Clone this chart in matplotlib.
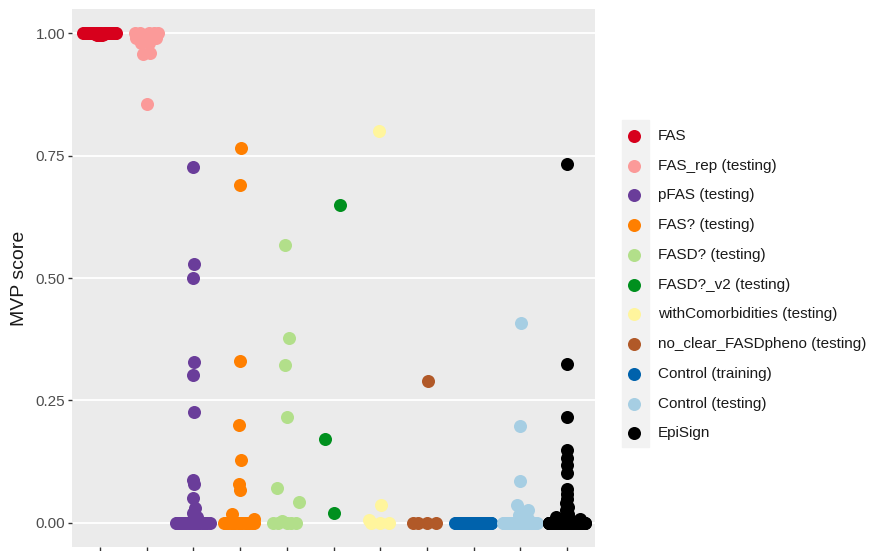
import numpy as np
import matplotlib.pyplot as plt
from matplotlib.patches import Rectangle

plt.rcParams['font.family'] = ['Liberation Sans', 'DejaVu Sans']

groups = ['FAS', 'FAS_rep (testing)', 'pFAS (testing)', 'FAS? (testing)',
          'FASD? (testing)', 'FASD?_v2 (testing)', 'withComorbidities (testing)',
          'no_clear_FASDpheno (testing)', 'Control (training)', 'Control (testing)',
          'EpiSign']
colors = ['#D7001C', '#FB9A99', '#6A3D9A', '#FF7F00', '#B2DF8A', '#00901E',
          '#FFF59D', '#B15928', '#0062AC', '#A6CEE3', '#000000']

# MVP scores
fas = [1.0] * 20 + [0.999] * 6 + [0.997] * 4
fas_rep = [1.0] * 5 + [0.99] * 3 + [0.98] * 2 + [0.96, 0.958, 0.855]
pfas = [0.727, 0.528, 0.5, 0.328, 0.302, 0.225, 0.087, 0.078, 0.05,
        0.03, 0.02, 0.012] + [0.0] * 20
fas_q = [0.765, 0.69, 0.33, 0.2, 0.128, 0.078, 0.066, 0.018, 0.008] + [0.0] * 14
fasd_q = [0.568, 0.377, 0.323, 0.215, 0.07, 0.042, 0.004] + [0.0] * 5
fasd_v2 = [0.65, 0.17, 0.02]
comorb = [0.80, 0.035, 0.006] + [0.0] * 3
no_clear = [0.29] + [0.0] * 4
ctrl_train = [0.0] * 60
ctrl_test = [0.408, 0.197, 0.085, 0.035, 0.025, 0.015, 0.008] + [0.0] * 28
episign = [0.733, 0.325, 0.215, 0.148, 0.132, 0.118, 0.102, 0.068, 0.058,
           0.048, 0.04, 0.032, 0.025, 0.018, 0.012, 0.008, 0.005, 0.003] + [0.0] * 100

scores = [fas, fas_rep, pfas, fas_q, fasd_q, fasd_v2, comorb, no_clear,
          ctrl_train, ctrl_test, episign]

yticks = [0.0, 0.25, 0.5, 0.75, 1.0]


def van_der_corput(n, base=2):
    out = []
    for i in range(1, n + 1):
        q, denom, x = i, 1, 0.0
        while q:
            denom *= base
            q, r = divmod(q, base)
            x += r / denom
        out.append(x)
    return np.array(out)


def bw_nrd0(y):
    hi = np.std(y, ddof=1)
    q75, q25 = np.percentile(y, [75, 25])
    lo = min(hi, (q75 - q25) / 1.34)
    if lo == 0:
        lo = hi or abs(y[0]) or 1.0
    return 0.9 * lo * len(y) ** -0.2


def quasirandom(y, width=0.4, adjust=0.5):
    # same idea as ggbeeswarm::geom_quasirandom
    y = np.asarray(y, float)
    n = len(y)
    if n < 2:
        return np.zeros(n)
    bw = bw_nrd0(y) * adjust
    grid = np.linspace(y.min() - 3 * bw, y.max() + 3 * bw, 1024)

    def dens(t):
        return np.exp(-0.5 * ((t[:, None] - y[None, :]) / bw) ** 2).sum(1)

    d = dens(y) / dens(grid).max()
    ranks = np.empty(n, int)
    ranks[np.argsort(y, kind='stable')] = np.arange(n)
    return (van_der_corput(n)[ranks] - 0.5) * 2 * d * width


fig = plt.figure(figsize=(8.71, 5.51), dpi=100)
ax = fig.add_axes([72 / 871, 4 / 551, 523 / 871, 538 / 551])
ax.set_facecolor('#EBEBEB')

for i, (name, vals, c) in enumerate(zip(groups, scores, colors)):
    xs = i + 1 + quasirandom(vals)
    ax.scatter(xs, vals, s=88, color=c, linewidths=0, label=name, zorder=3)

ax.set_xlim(0.4, len(groups) + 0.6)
ax.set_ylim(-0.05, 1.05)
ax.set_xticks(np.arange(1, len(groups) + 1))
ax.set_xticklabels([])
ax.set_yticks(yticks)
ax.set_yticklabels([f'{v:.2f}' for v in yticks])
ax.tick_params(axis='both', length=3, width=1, color='#333333',
               labelsize=11, labelcolor='#4D4D4D', pad=2)
ax.grid(axis='y', color='white', linewidth=1.3)
ax.set_axisbelow(True)
for s in ax.spines.values():
    s.set_visible(False)

fig.text(20 / 871, 1 - 278 / 551, 'MVP score', rotation=90, fontsize=14,
         ha='center', va='center', color='#1A1A1A')

fig.patches.append(Rectangle((622 / 871, 1 - 447 / 551), 27 / 871, 327 / 551,
                             transform=fig.transFigure, color='#F2F2F2', zorder=-1))
ax.legend(loc='upper left', bbox_to_anchor=(626 / 871, 1 - 129 / 551),
          bbox_transform=fig.transFigure, frameon=False, fontsize=11,
          handlelength=1.0, handletextpad=1.07, labelspacing=1.03,
          borderpad=0, borderaxespad=0, labelcolor='#1A1A1A')

fig.savefig('out.png', dpi=100)
